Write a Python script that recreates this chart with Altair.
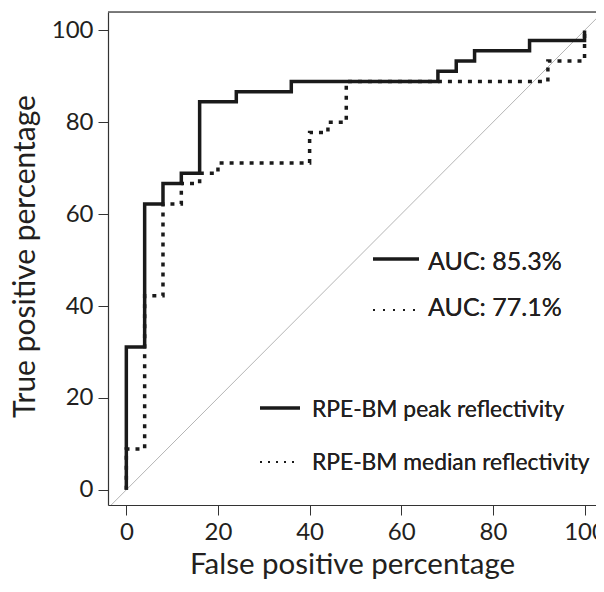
import altair as alt
import pandas as pd

# ROC step vertices: false positive % and number of true positives (of 45)
peak_fpr = [0, 0, 4, 8, 12, 16, 24, 36, 68, 72, 76, 88, 100]
peak_tp = [0, 14, 28, 30, 31, 38, 39, 40, 41, 42, 43, 44, 45]
median_fpr = [0, 0, 4, 8, 12, 16, 20, 40, 44, 48, 92, 100]
median_tp = [0, 4, 19, 28, 30, 31, 32, 35, 36, 40, 42, 45]
n_positive = 45
series_names = ["RPE-BM peak reflectivity", "RPE-BM median reflectivity"]
auc_labels = ["AUC: 85.3%", "AUC: 77.1%"]
tick_values = [0, 20, 40, 60, 80, 100]
x_domain = [-4, 102.5]
y_domain = [-3.3, 104]

FONT = "Lato"
INK = "#231f20"

rows = []
for name, fpr, tp in [(series_names[0], peak_fpr, peak_tp), (series_names[1], median_fpr, median_tp)]:
    for i, (f, t) in enumerate(zip(fpr, tp)):
        rows.append({"series": name, "fpr": f, "tpr": 100.0 * t / n_positive, "order": i})
df = pd.DataFrame(rows)

xs = alt.Scale(domain=x_domain, nice=False, zero=False)
ys = alt.Scale(domain=y_domain, nice=False, zero=False)

x_axis = alt.Axis(values=tick_values, title="False positive percentage", grid=False,
                  tickSize=10, labelPadding=24, labelBaseline="alphabetic",
                  labelFontSize=24, titleFontSize=29.5, titleFontWeight="normal",
                  titleY=68, titleBaseline="alphabetic",
                  labelColor=INK, titleColor=INK, tickColor="#333",
                  domain=True, domainColor="#333", domainWidth=1.2,
                  labelFont=FONT, titleFont=FONT)
y_axis = alt.Axis(values=tick_values, title="True positive percentage", grid=False,
                  tickSize=10, labelPadding=5, labelFontSize=24, titleFontSize=30,
                  titleFontWeight="normal", titleAngle=-90, titleX=-83, titleY=244,
                  titleAlign="center", titleBaseline="middle",
                  labelColor=INK, titleColor=INK, tickColor="#333",
                  domain=True, domainColor="#333", domainWidth=1.2,
                  labelFont=FONT, titleFont=FONT)

diag_df = pd.DataFrame({"x": [-4, 104], "y": [-4, 104]})
diag = alt.Chart(diag_df).mark_line(color="#b5b5b5", strokeWidth=1, clip=True).encode(
    x=alt.X("x:Q", scale=xs, axis=x_axis),
    y=alt.Y("y:Q", scale=ys, axis=y_axis),
)

top_line = alt.Chart(diag_df).mark_rule(color="#555", strokeWidth=1.2).encode(
    x=alt.value(0), x2=alt.value(488), y=alt.value(0))

peak = alt.Chart(df[df.series == series_names[0]]).mark_line(
    color="#1a1a1a", strokeWidth=3.5, interpolate="step-after"
).encode(x=alt.X("fpr:Q", scale=xs), y=alt.Y("tpr:Q", scale=ys), order="order:Q")

median = alt.Chart(df[df.series == series_names[1]]).mark_line(
    color="#1a1a1a", strokeWidth=3.5, interpolate="step-after", strokeDash=[4, 6]
).encode(x=alt.X("fpr:Q", scale=xs), y=alt.Y("tpr:Q", scale=ys), order="order:Q")

def leg_line(x1, x2, y, dash=None, w=3):
    kw = dict(color="#1a1a1a", strokeWidth=w)
    if dash:
        kw["strokeDash"] = dash
    return alt.Chart(diag_df).mark_rule(**kw).encode(
        x=alt.value(x1), x2=alt.value(x2), y=alt.value(y))

def leg_text(txt, x, y, size=24):
    return alt.Chart(diag_df).mark_text(
        text=txt, align="left", baseline="alphabetic", fontSize=size,
        font=FONT, color=INK).encode(x=alt.value(x), y=alt.value(y))

legend = [
    leg_line(265, 311, 247),
    leg_text(auc_labels[0], 320, 258, 25),
    leg_line(265, 307, 298, dash=[2, 8], w=2),
    leg_text(auc_labels[1], 320, 304, 25),
    leg_line(152, 192, 396),
    leg_text(series_names[0], 204, 405, 22.8),
    leg_line(152, 192, 450, dash=[2, 6], w=2),
    leg_text(series_names[1], 204, 458, 22.8),
]

chart = alt.layer(diag, top_line, peak, median, *legend).properties(
    width=488, height=493,
    autosize=alt.AutoSizeParams(type="none"),
    padding={"left": 100, "top": 4, "right": 0, "bottom": 74},
).configure_view(stroke=None).configure(background="white")

chart.save("out.html", embed_options={"renderer": "svg", "actions": False})
